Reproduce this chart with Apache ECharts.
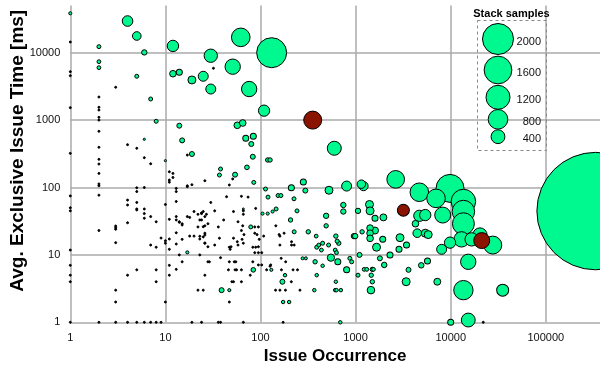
<!DOCTYPE html>
<html><head><meta charset="utf-8">
<script src="https://cdn.jsdelivr.net/npm/echarts@6/dist/echarts.min.js"></script>
<style>html,body{margin:0;padding:0;background:#fff}#c{width:600px;height:375px}</style>
</head><body><div id="c"></div>
<script>
// ---- data: [issue occurrence, avg. exclusive issue time (ms), stack samples] ----
const xTickLabels = [1, 10, 100, 1000, 10000, 100000];
const yTickLabels = [1, 10, 100, 1000, 10000];
const legendSamples = [2000, 1600, 1200, 800, 400];

const lowOccurrenceIssues = [
[1,38400,20],[1,14400,4],[1,5230,4],[1,4560,4],[1,1530,4],[1,321,4],[1,75,4],[1,50,4],[1,45,4],[1,11.8,4],[1,7,4],[1,5,4],[1,4,4],[1,1,4],
[2,12300,33],[2,7360,30],[2,6000,30],[2,2200,4],[2,1550,4],[2,1410,4],[2,1100,4],[2,1000,4],[2,682,4],[2,395,4],[2,262,4],[2,223,4],[2,162,4],[2,113,4],[2,106,4],[2,77,4],[2,23,4],[2,1,4],
[3,3070,4],[3,26.8,4],[3,25.3,4],[3,24,4],[3,15.2,4],[3,3,4],[3,2,4],[3,1,4],
[4,29500,234],[4,432,4],[4,65,4],[4,55,4],[4,30,4],[4,5,4],[4,1,4],
[5,17700,155],[5,4470,33],[5,382,4],[5,99,4],[5,87,4],[5,60,4],[5,48,4],[5,46.5,4],[5,6,4],[5,1,4],
[6,10100,60],[6,519,10],[6,277,4],[6,100,4],[6,48,4],[6,41,4],[6,35,4],[6,1,4],
[7,2056,33],[7,225,6],[7,37,4],[7,14,4],[7,1,4],
[8,960,33],[8,31,4],[8,13,4],[8,6,4],[8,4,4],[8,1,4],
[9,17.8,4],[9,1,4],
[10,250,10],[10,56,4],[10,16.2,4],[10,14.9,4],[10,2,4],
[11,171,6],[11,129,4],[11,120,4],[11,33.7,4],[11,17.2,4],[11,12.1,4],[11,7,4],[11,5,4],
[12,12600,270],[12,4880,90],[12,162,6],[12,141,4],
[13,97,4],[13,87,4],[13,62,4],[13,37,4],[13,33,4],[13,21.3,4],[13,14.5,4],[13,6.1,4],
[14,5120,75],[14,826,52],[14,31,4],[14,30.5,4],[14,10,4],
[15,500,52],[15,29,4],[15,27.8,4],[15,17,4],[15,7.9,4],
[17,303,4],[17,106,4],[17,103,4],[17,37,4],[17,10.9,20],
[18,36,4],[18,19,4],
[19,3940,133],[19,314,52],[19,110,4],[19,1,4]
];

const midOccurrenceIssues = [
[20,44,4],[20,19,4],[22,40,4],[22,26,4],[22,3,4],[23,33,4],[23,18.9,4],[23,17.2,4],[23,10,4],
[24,42,4],[24,41,4],[24,33,4],[24,1,4],[25,4470,208],[25,44,4],[25,26.2,4],[25,18.5,4],[25,3,4],
[26,126,4],[26,37,4],[26,27,4],[26,21,4],[26,19.7,4],[26,15,4],[26,14.9,4],[26,5,4],[27,40,4],
[28,29,4],[28,13.2,4],[28,7.9,4],[29,7.9,4],[30,9020,370],[30,2890,208],[30,60,4],[32,5870,4],
[33,45,4],[33,14,4],[36,26,4],[36,1,4],[37,153,33],[37,17.7,4],[38,188,33],[38,9.1,4],[38,1,4],
[39,3,52],[41,33,4],[44,73,4],[46,6,4],[47,109,4],[47,13,4],[47,7.9,4],[47,3,20],[47,2,4],
[48,12.1,4],[49,13.2,4],[50,4,4],[51,6200,490],[51,134,4],[52,44,4],[52,17.7,4],[52,4,4],
[53,7.9,4],[54,155,52],[54,6,4],[55,7.9,4],[56,6,4],[57,837,92],[57,15.7,4],[58,31,4],[58,14,4],
[62,16900,720],[63,74,4],[63,23,4],[63,6,4],[63,4,4],[64,17,4],[65,906,92],[65,27,4],
[66,48,8],[66,45,4],[66,40,4],[66,14.9,4],[66,1,4],[67,20,4],[70,537,75],[72,199,45],[74,72,4],
[76,2890,490],[78,5,4],[79,26,33],[80,442,52],[83,286,52],[83,13,4],[83,7.9,4],[84,575,75],[84,6,45],
[85,119,33],[87,26,4],[87,21,4],[87,10.8,4],[89,49,4],[89,13,4],[92,20,4],[95,26,4],[95,13.2,4],
[95,10.8,4],[95,7.1,4],[97,17,4],[103,10.8,4],[103,7.1,4],[105,41,20],[108,19,4],[109,1380,265],
[113,95,33],[116,6,4],[119,256,40],[119,41,20],[120,72,33],[126,256,40],[126,6.8,6],[128,7.1,6],
[130,6,20],[131,10000,1870],[134,44,20],[144,3,4],[145,27,4],[146,48,33],[153,76,33],[164,76,33],
[157,20,4],[160,19,4],[160,14,4],[160,3,4],[165,8.9,4],[166,6,4],[170,4,52],[173,2,25],[173,1,4],
[177,21,4],[181,5,25],[183,3,4],[184,7.9,6],[200,2,25],[207,33,40],[211,99,75],[211,4,4],
[212,15.7,4],[212,14,4],[220,6,4],[225,68,33],[226,22,33],[226,14,4],[242,45,33],[245,6,4],
[260,3,4],[277,8.9,19],[282,121,75],[296,90,52]
];

const highOccurrenceIssues = [
[300,8.9,19],[318,22,40],[368,3,25],[375,7.9,40],[385,19,30],[390,13,33],[390,5,25],[410,14,30],
[437,11.8,30],[450,14.9,33],[450,6.9,25],[490,38,60],[490,27,40],[520,14,33],[525,91,133],[550,9.1,110],
[597,382,408],[610,11.8,30],[610,3,25],[620,19,40],[620,4,25],[630,10.8,30],[630,3,25],[640,16,35],
[650,7.9,75],[665,14.9,40],[690,1,25],[700,3,25],[743,55,60],[743,44,60],[805,105,208],[805,6,75],
[870,8.9,33],[910,7.9,33],[960,19,60],[990,19,60],[1060,45,60],[1060,5,33],[1100,10,52],[1170,22,40],
[1150,112,150],[1210,105,180],[1230,6.1,30],[1310,6.1,30],[1400,56,133],[1420,45,133],[1420,25,92],
[1420,21,92],[1420,17.6,92],[1460,5,40],[1500,6.1,40],[1500,4,40],[1450,3,120],[1540,6.1,30],
[1600,35,75],[1600,23,100],[1660,13,133],[1800,8.9,52],[1930,17,75],[1960,36,100],[2000,7.1,63],
[2300,10,75],[2640,132,650],[2860,12.1,75],[2930,18,133],[3400,4,133],[3430,14,75],[3600,6,52],
[4260,29,92],[4450,21,155],[4680,85,720],[4680,38,265],[4900,7,63],[5400,39,265],[5400,21,133],
[5700,8.1,75],[5800,20,133],[7010,69,720],[7230,4,100],[8030,12.1,208],[8240,39,530],
[9840,97,1630],[9840,15.2,265],[10000,1,75],[13000,17,490],[13600,62,1250],[13600,44,1050],
[13600,29,1000],[13600,3,780],[15300,7.9,490],[15300,1.08,400],[16600,17,370],[20300,19.7,430],
[22000,1,4],[27700,14,670],[35200,3,300]
];

const outlierIssues = [[334000,44.7,28700]];
const hotspotIssues = [[354,1000,675],[3180,46,300],[21200,16.3,530]];

// ---- styling ----
const GREEN = '#00F98F';
const RED = '#8B1400';
const FONT = 'Liberation Sans, Arial, sans-serif';
const sizeK = 0.3466; // radius = k * sqrt(samples)
const radiusOf = s => sizeK * Math.sqrt(s);
const symbolSize = v => Math.max(2, 2 * radiusOf(v[2]));
const fillOf = p => (p.value[2] < 8 ? '#000' : GREEN);

const allIssues = lowOccurrenceIssues.concat(midOccurrenceIssues, highOccurrenceIssues, outlierIssues)
  .slice().sort((a, b) => b[2] - a[2]);

const chart = echarts.init(document.getElementById('c'), null, {renderer: 'canvas'});

const legendX = 498;
const legendY = [39, 70, 97.3, 119.3, 136.7];
const legendGraphics = [
  // white strip so the grid starts a few pixels below the top edge, as in the original
  {type: 'rect', shape: {x: 60, y: 0, width: 540, height: 5.5}, style: {fill: '#fff'}, z: 1},
  {type: 'rect', shape: {x: 477.5, y: 20.5, width: 69, height: 130}, style: {fill: 'none', stroke: '#888', lineWidth: 1, lineDash: [3, 3]}, z: 10},
  {type: 'text', style: {text: 'Stack samples', x: 511.5, y: 13.5, align: 'center', verticalAlign: 'middle', font: 'bold 11px ' + FONT, fill: '#000'}, z: 10}
];
legendSamples.forEach((s, i) => {
  legendGraphics.push({type: 'circle', shape: {cx: legendX, cy: legendY[i], r: radiusOf(s)}, style: {fill: GREEN, stroke: '#000', lineWidth: 1}, z: 10});
  legendGraphics.push({type: 'text', style: {text: String(s), x: 541, y: legendY[i] + 2.5, align: 'right', verticalAlign: 'middle', font: '11px ' + FONT, fill: '#111'}, z: 11});
});

const isTick = (v, list) => list.some(t => Math.abs(v - t) / t < 1e-6);

chart.setOption({
  animation: false,
  backgroundColor: '#fff',
  grid: {left: 70.3, right: -40.9, top: -14.7, bottom: 52.7, containLabel: false, outerBoundsMode: 'none'},
  xAxis: {
    type: 'log', logBase: 10, min: 1, max: 1000000,
    name: 'Issue Occurrence', nameLocation: 'middle', nameGap: 26, nameMoveOverlap: false,
    nameTextStyle: {fontSize: 17, fontWeight: 'bold', color: '#000', fontFamily: FONT, padding: [0, 41, 0, 0]},
    axisLine: {show: false}, axisTick: {show: false},
    axisLabel: {fontSize: 11, color: '#111', fontFamily: FONT, margin: 10,
      formatter: v => isTick(v, xTickLabels) ? String(Math.round(v)) : ''},
    splitLine: {show: true, lineStyle: {color: '#aaa', width: 1.5}}
  },
  yAxis: {
    type: 'log', logBase: 10, min: 1, max: 100000,
    name: 'Avg. Exclusive Issue Time [ms]', nameLocation: 'middle', nameGap: 43, nameRotate: 90, nameMoveOverlap: false,
    nameTextStyle: {fontSize: 19, fontWeight: 'bold', color: '#000', fontFamily: FONT, padding: [0, 0, 0, 6]},
    axisLine: {show: false}, axisTick: {show: false},
    axisLabel: {fontSize: 11, color: '#111', fontFamily: FONT, margin: 10,
      formatter: v => isTick(v, yTickLabels) ? String(Math.round(v)) : ''},
    splitLine: {show: true, lineStyle: {color: '#aaa', width: 1.5}}
  },
  series: [
    {type: 'scatter', name: 'issues', data: allIssues, symbol: 'circle', symbolSize: symbolSize,
     clip: false, silent: true,
     itemStyle: {color: fillOf, borderColor: '#000', borderWidth: 1, opacity: 1}, z: 2},
    {type: 'scatter', name: 'hotspots', data: hotspotIssues, symbol: 'circle', symbolSize: symbolSize,
     clip: false, silent: true,
     itemStyle: {color: RED, borderColor: '#000', borderWidth: 1, opacity: 1}, z: 3}
  ],
  graphic: legendGraphics
});
</script>
</body></html>
